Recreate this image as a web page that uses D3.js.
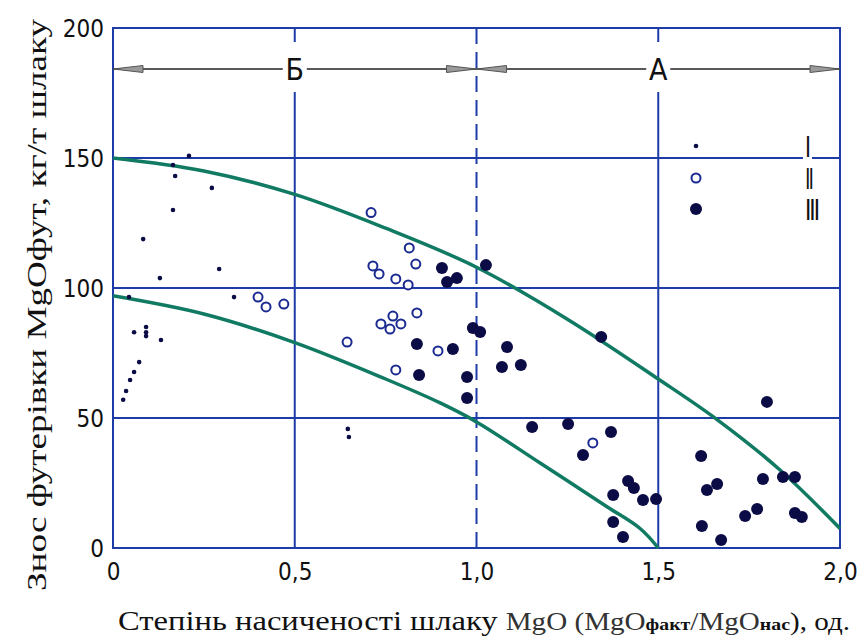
<!DOCTYPE html>
<html>
<head>
<meta charset="utf-8">
<script src="https://cdn.jsdelivr.net/npm/d3@7"></script>
<style>
  html, body { margin: 0; padding: 0; background: #fff; }
  #container { width: 866px; height: 642px; }
</style>
</head>
<body>
<div id="container"></div>
<script>
// --- data ---
let xTicks = [0, 0.5, 1.0, 1.5, 2.0];
let yTicks = [0, 50, 100, 150, 200];

// I: small dots
let seriesI = [
    [0.209, 150.8], [0.165, 147.3], [0.171, 143.1], [0.272, 138.5], [0.165, 130],
    [0.083, 118.8], [0.292, 107.3], [0.129, 103.8], [0.333, 96.5], [0.044, 96.5],
    [0.058, 83], [0.091, 85], [0.091, 83], [0.091, 81.5], [0.132, 80],
    [0.072, 71.5], [0.058, 67.7], [0.047, 64.6], [0.036, 60.4], [0.028, 57],
    [0.646, 45.8], [0.649, 42.7]
];
// II: open circles
let seriesII = [
    [0.710, 129], [0.815, 115.4], [0.833, 109.2], [0.715, 108.5], [0.732, 105.4],
    [0.778, 103.5], [0.812, 101.2], [0.399, 96.5], [0.421, 92.7], [0.470, 93.8],
    [0.836, 90.4], [0.770, 89.2], [0.737, 86.2], [0.792, 86.2], [0.762, 84.2],
    [0.644, 79.2], [0.894, 75.8], [0.778, 68.5], [1.320, 40.4]
];
// III: filled circles
let seriesIII = [
    [0.905, 107.7], [1.026, 108.8], [0.946, 103.8], [0.919, 102.3], [0.990, 84.6],
    [1.010, 83.1], [0.836, 78.5], [0.935, 76.5], [1.084, 77.3], [1.070, 69.6],
    [1.122, 70.4], [1.343, 81.2], [1.799, 56.2], [0.842, 66.5], [0.974, 65.8],
    [0.974, 57.7], [1.153, 46.5], [1.252, 47.7], [1.370, 44.6], [1.293, 35.8],
    [1.618, 35.4], [1.417, 25.8], [1.433, 23.1], [1.376, 20.4], [1.458, 18.5],
    [1.494, 18.8], [1.662, 24.6], [1.634, 22.3], [1.788, 26.5], [1.843, 27.3],
    [1.876, 27.3], [1.772, 15], [1.739, 12.3], [1.876, 13.5], [1.895, 11.9],
    [1.376, 10], [1.403, 4.2], [1.620, 8.5], [1.673, 3.1]
];
let upperCurve = [
    [0, 150], [0.25, 145], [0.5, 136], [0.75, 123], [1.0, 108], [1.25, 88],
    [1.5, 65], [1.66, 49.6], [1.835, 30], [2.0, 7.5]
];
let lowerCurve = [
    [0, 97], [0.25, 90], [0.5, 79], [0.75, 65], [0.9, 55.8], [1.0, 48.5],
    [1.175, 32.7], [1.36, 15.8], [1.45, 7.5], [1.5, 0]
];
let zones = [
    {label: 'Б', from: 0, to: 1.0},
    {label: 'А', from: 1.0, to: 2.0}
];
let legendLabels = ['I', 'II', 'III'];

// --- drawing ---
let blue = '#1e3ca8',
    navy = '#0b0b45',
    teal = '#117a62',
    condensed = "'DejaVu Sans Condensed', 'DejaVu Sans', sans-serif";

let viz = d3.select('#container')
    .append('svg')
      .attr('width', 866)
      .attr('height', 642)
      .style('background', '#fff');

let x = d3.scaleLinear().domain([0, 2]).range([113, 840]);
let y = d3.scaleLinear().domain([0, 200]).range([548, 28]);

// grid
let grid = viz.append('g');
grid.selectAll('.hl')
    .data(yTicks.filter(d => d > 0 && d < 200))
    .enter().append('line')
      .attr('x1', x(0)).attr('x2', x(2))
      .attr('y1', d => y(d)).attr('y2', d => y(d))
      .attr('stroke', blue).attr('stroke-width', 2);
grid.selectAll('.vl')
    .data(xTicks.filter(d => d > 0 && d < 2))
    .enter().append('line')
      .attr('x1', d => x(d)).attr('x2', d => x(d))
      .attr('y1', y(0)).attr('y2', y(200))
      .attr('stroke', blue).attr('stroke-width', 2)
      .attr('stroke-dasharray', d => d === 1.0 ? '16,8' : null);
grid.append('rect')
    .attr('x', x(0)).attr('y', y(200))
    .attr('width', x(2) - x(0)).attr('height', y(0) - y(200))
    .attr('fill', 'none').attr('stroke', blue).attr('stroke-width', 2);

// zone arrows
let arrowY = 69;
let zoneG = viz.append('g');
function arrowHead(px, dir) {
    // dir = -1 points left, 1 points right
    let len = 30, hw = 3.5;
    zoneG.append('path')
        .attr('d', 'M' + px + ',' + arrowY +
                   'L' + (px - dir * len) + ',' + (arrowY - hw) +
                   'L' + (px - dir * len) + ',' + (arrowY + hw) + 'Z')
        .attr('fill', '#9a9a9a').attr('stroke', '#555').attr('stroke-width', 1);
}
zones.forEach(z => {
    zoneG.append('line')
        .attr('x1', x(z.from)).attr('x2', x(z.to))
        .attr('y1', arrowY).attr('y2', arrowY)
        .attr('stroke', '#222').attr('stroke-width', 1.3);
    arrowHead(x(z.from), -1);
    arrowHead(x(z.to), 1);
    let mid = x((z.from + z.to) / 2);
    zoneG.append('rect')
        .attr('x', mid - 12).attr('y', 42)
        .attr('width', 24).attr('height', 50)
        .attr('fill', '#fff');
    zoneG.append('text')
        .attr('x', mid).attr('y', arrowY + 11)
        .attr('text-anchor', 'middle')
        .attr('font-family', condensed)
        .attr('font-stretch', 'condensed')
        .attr('font-weight', 300)
        .attr('font-size', 30)
        .attr('fill', '#111')
        .text(z.label);
});

// curves
let line = d3.line()
    .x(d => x(d[0]))
    .y(d => y(d[1]))
    .curve(d3.curveCatmullRom.alpha(0.5));
viz.selectAll('.curve')
    .data([upperCurve, lowerCurve])
    .enter().append('path')
      .attr('d', line)
      .attr('fill', 'none')
      .attr('stroke', teal)
      .attr('stroke-width', 3.5);

// points
viz.append('g').selectAll('circle')
    .data(seriesI)
    .enter().append('circle')
      .attr('cx', d => x(d[0])).attr('cy', d => y(d[1]))
      .attr('r', 2.3).attr('fill', navy);
viz.append('g').selectAll('circle')
    .data(seriesII)
    .enter().append('circle')
      .attr('cx', d => x(d[0])).attr('cy', d => y(d[1]))
      .attr('r', 4.5).attr('fill', '#fff')
      .attr('stroke', '#1a2a90').attr('stroke-width', 2);
viz.append('g').selectAll('circle')
    .data(seriesIII)
    .enter().append('circle')
      .attr('cx', d => x(d[0])).attr('cy', d => y(d[1]))
      .attr('r', 6).attr('fill', navy);

// legend
let legend = viz.append('g');
let legendRows = [146, 178, 209];
let legendWidths = [4, 7, 13];
legend.append('circle').attr('cx', 696).attr('cy', legendRows[0]).attr('r', 2.3).attr('fill', navy);
legend.append('circle').attr('cx', 696).attr('cy', legendRows[1]).attr('r', 4.5)
    .attr('fill', '#fff').attr('stroke', '#1a2a90').attr('stroke-width', 2);
legend.append('circle').attr('cx', 696).attr('cy', legendRows[2]).attr('r', 6).attr('fill', navy);
legend.append('rect').attr('x', 803).attr('y', 155).attr('width', 9).attr('height', 5).attr('fill', '#fff');
legend.selectAll('text')
    .data(legendLabels)
    .enter().append('text')
      .attr('x', 806).attr('y', (d, i) => legendRows[i] + 11)
      .attr('font-family', condensed)
      .attr('font-weight', 'bold')
      .attr('font-size', 29)
      .attr('textLength', (d, i) => legendWidths[i])
      .attr('lengthAdjust', 'spacingAndGlyphs')
      .attr('fill', '#111')
      .text(d => d);

// axes (labels only)
let fmt = d => d === 0 ? '0' : d3.format('.1f')(d).replace('.', ',');
let xAxis = viz.append('g')
    .attr('transform', 'translate(0,' + 548 + ')')
    .call(d3.axisBottom(x).tickValues(xTicks).tickFormat(fmt).tickSize(0).tickPadding(10));
let yAxis = viz.append('g')
    .attr('transform', 'translate(' + 113 + ',0)')
    .call(d3.axisLeft(y).tickValues(yTicks).tickFormat(d3.format('d')).tickSize(0).tickPadding(9));
[xAxis, yAxis].forEach(a => {
    a.select('.domain').remove();
    a.selectAll('text')
        .attr('font-family', condensed)
        .attr('font-stretch', 'condensed')
        .attr('font-size', 24)
        .attr('fill', '#111');
});
xAxis.selectAll('text').attr('dy', '0.9em');
yAxis.selectAll('text').attr('dy', '0.35em');

// axis titles
viz.append('text')
    .attr('transform', 'translate(46,' + 305 + ') rotate(-90)')
    .attr('text-anchor', 'middle')
    .attr('font-family', 'Liberation Serif')
    .attr('font-size', 28)
    .attr('fill', '#111')
    .attr('textLength', 572)
    .attr('lengthAdjust', 'spacingAndGlyphs')
    .text('Знос футерівки MgOфут, кг/т шлаку');

let xt = viz.append('text')
    .attr('x', 118).attr('y', 630)
    .attr('font-family', 'Liberation Serif')
    .attr('font-size', 28)
    .attr('fill', '#111')
    .attr('textLength', 732)
    .attr('lengthAdjust', 'spacingAndGlyphs');
xt.append('tspan').text('Степінь насиченості шлаку ');
xt.append('tspan').attr('fill', '#333').attr('font-size', 25).text('MgO (MgO');
xt.append('tspan').attr('font-size', 17).attr('font-weight', 'bold').text('факт');
xt.append('tspan').attr('fill', '#333').attr('font-size', 25).text('/MgO');
xt.append('tspan').attr('font-size', 17).attr('font-weight', 'bold').text('нас');
xt.append('tspan').attr('font-size', 25).text('), од.');
</script>
</body>
</html>
